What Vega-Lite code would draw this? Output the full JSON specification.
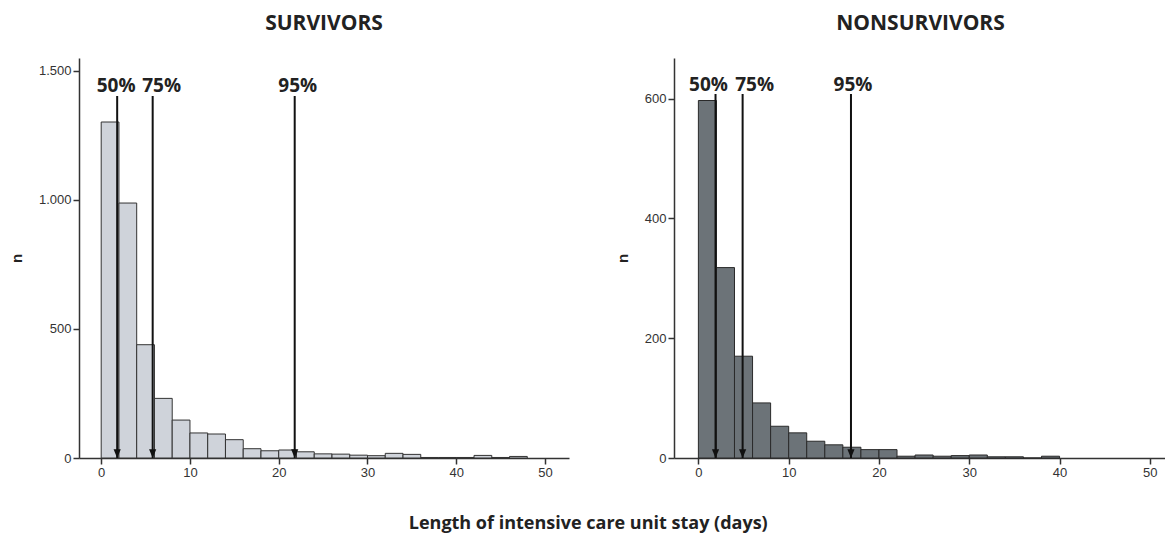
{
  "$schema": "https://vega.github.io/schema/vega-lite/v6.json",
  "padding": {"left": 9, "top": 13, "right": 0, "bottom": 0},
  "background": "white",
  "datasets": {
    "bins": [
      {"group": "Survivors", "bin_start": 0, "bin_end": 2, "n": 1302},
      {"group": "Survivors", "bin_start": 2, "bin_end": 4, "n": 988},
      {"group": "Survivors", "bin_start": 4, "bin_end": 6, "n": 439},
      {"group": "Survivors", "bin_start": 6, "bin_end": 8, "n": 231},
      {"group": "Survivors", "bin_start": 8, "bin_end": 10, "n": 147},
      {"group": "Survivors", "bin_start": 10, "bin_end": 12, "n": 97},
      {"group": "Survivors", "bin_start": 12, "bin_end": 14, "n": 93},
      {"group": "Survivors", "bin_start": 14, "bin_end": 16, "n": 71},
      {"group": "Survivors", "bin_start": 16, "bin_end": 18, "n": 36},
      {"group": "Survivors", "bin_start": 18, "bin_end": 20, "n": 28},
      {"group": "Survivors", "bin_start": 20, "bin_end": 22, "n": 31},
      {"group": "Survivors", "bin_start": 22, "bin_end": 24, "n": 24},
      {"group": "Survivors", "bin_start": 24, "bin_end": 26, "n": 16},
      {"group": "Survivors", "bin_start": 26, "bin_end": 28, "n": 15},
      {"group": "Survivors", "bin_start": 28, "bin_end": 30, "n": 11},
      {"group": "Survivors", "bin_start": 30, "bin_end": 32, "n": 9},
      {"group": "Survivors", "bin_start": 32, "bin_end": 34, "n": 18},
      {"group": "Survivors", "bin_start": 34, "bin_end": 36, "n": 14},
      {"group": "Survivors", "bin_start": 36, "bin_end": 38, "n": 2},
      {"group": "Survivors", "bin_start": 38, "bin_end": 40, "n": 2},
      {"group": "Survivors", "bin_start": 40, "bin_end": 42, "n": 2},
      {"group": "Survivors", "bin_start": 42, "bin_end": 44, "n": 10},
      {"group": "Survivors", "bin_start": 44, "bin_end": 46, "n": 2},
      {"group": "Survivors", "bin_start": 46, "bin_end": 48, "n": 6},
      {"group": "Nonsurvivors", "bin_start": 0, "bin_end": 2, "n": 597},
      {"group": "Nonsurvivors", "bin_start": 2, "bin_end": 4, "n": 318},
      {"group": "Nonsurvivors", "bin_start": 4, "bin_end": 6, "n": 170},
      {"group": "Nonsurvivors", "bin_start": 6, "bin_end": 8, "n": 92},
      {"group": "Nonsurvivors", "bin_start": 8, "bin_end": 10, "n": 53},
      {"group": "Nonsurvivors", "bin_start": 10, "bin_end": 12, "n": 42},
      {"group": "Nonsurvivors", "bin_start": 12, "bin_end": 14, "n": 28},
      {"group": "Nonsurvivors", "bin_start": 14, "bin_end": 16, "n": 22},
      {"group": "Nonsurvivors", "bin_start": 16, "bin_end": 18, "n": 18},
      {"group": "Nonsurvivors", "bin_start": 18, "bin_end": 20, "n": 14},
      {"group": "Nonsurvivors", "bin_start": 20, "bin_end": 22, "n": 14},
      {"group": "Nonsurvivors", "bin_start": 22, "bin_end": 24, "n": 3},
      {"group": "Nonsurvivors", "bin_start": 24, "bin_end": 26, "n": 5},
      {"group": "Nonsurvivors", "bin_start": 26, "bin_end": 28, "n": 3},
      {"group": "Nonsurvivors", "bin_start": 28, "bin_end": 30, "n": 4},
      {"group": "Nonsurvivors", "bin_start": 30, "bin_end": 32, "n": 5},
      {"group": "Nonsurvivors", "bin_start": 32, "bin_end": 34, "n": 2},
      {"group": "Nonsurvivors", "bin_start": 34, "bin_end": 36, "n": 2},
      {"group": "Nonsurvivors", "bin_start": 36, "bin_end": 38, "n": 0},
      {"group": "Nonsurvivors", "bin_start": 38, "bin_end": 40, "n": 3}
    ],
    "markers": [
      {"group": "Survivors", "pct": "50%", "day": 1.8, "top": 1403},
      {"group": "Survivors", "pct": "75%", "day": 5.8, "top": 1403},
      {"group": "Survivors", "pct": "95%", "day": 21.8, "top": 1403},
      {"group": "Nonsurvivors", "pct": "50%", "day": 1.9, "top": 608},
      {"group": "Nonsurvivors", "pct": "75%", "day": 4.9, "top": 608},
      {"group": "Nonsurvivors", "pct": "95%", "day": 16.9, "top": 608}
    ]
  },
  "title": {
    "text": "Length of intensive care unit stay (days)",
    "orient": "bottom",
    "anchor": "middle",
    "font": "Open Sans",
    "fontSize": 18,
    "fontWeight": "bold",
    "color": "#222",
    "offset": 36
  },
  "spacing": 46,
  "hconcat": [
    {
      "title": {"text": "SURVIVORS", "font": "Open Sans", "fontSize": 21, "fontWeight": "bold", "color": "#222", "offset": 24, "anchor": "middle"},
      "width": 490,
      "height": 400,
      "layer": [
        {
          "data": {"name": "bins"},
          "transform": [{"filter": "datum.group == 'Survivors'"}],
          "mark": {"type": "bar", "fill": "#cfd3da", "stroke": "#333333", "strokeWidth": 1},
          "encoding": {
            "x": {"field": "bin_start", "type": "quantitative", "scale": {"domain": [-2.5, 52.7], "nice": false, "zero": false}, "axis": {"title": null, "values": [0, 10, 20, 30, 40, 50]}},
            "x2": {"field": "bin_end"},
            "y": {"field": "n", "type": "quantitative", "scale": {"domain": [0, 1550], "nice": false}, "axis": {"title": "n", "values": [0, 500, 1000, 1500], "labelExpr": "replace(format(datum.value, ','), ',', '.')"}},
            "y2": {"datum": 0}
          }
        },
        {
          "data": {"name": "markers"},
          "transform": [{"filter": "datum.group == 'Survivors'"}],
          "mark": {"type": "rule", "color": "#111", "strokeWidth": 2},
          "encoding": {
            "x": {"field": "day", "type": "quantitative"},
            "y": {"field": "top", "type": "quantitative"},
            "y2": {"datum": 0}
          }
        },
        {
          "data": {"name": "markers"},
          "transform": [{"filter": "datum.group == 'Survivors'"}],
          "mark": {"type": "point", "shape": "M-0.45,-1.1L0.45,-1.1L0,0Z", "filled": true, "color": "#111", "size": 256, "opacity": 1},
          "encoding": {
            "x": {"field": "day", "type": "quantitative"},
            "y": {"datum": 0}
          }
        },
        {
          "data": {"name": "markers"},
          "transform": [{"filter": "datum.group == 'Survivors' && datum.pct == '50%'"}],
          "mark": {"type": "text", "font": "Open Sans", "fontSize": 19, "fontWeight": "bold", "color": "#222", "baseline": "alphabetic", "dy": -4, "dx": -1},
          "encoding": {"x": {"field": "day", "type": "quantitative"}, "y": {"field": "top", "type": "quantitative"}, "text": {"field": "pct"}}
        },
        {
          "data": {"name": "markers"},
          "transform": [{"filter": "datum.group == 'Survivors' && datum.pct == '75%'"}],
          "mark": {"type": "text", "font": "Open Sans", "fontSize": 19, "fontWeight": "bold", "color": "#222", "baseline": "alphabetic", "dy": -4, "dx": 9},
          "encoding": {"x": {"field": "day", "type": "quantitative"}, "y": {"field": "top", "type": "quantitative"}, "text": {"field": "pct"}}
        },
        {
          "data": {"name": "markers"},
          "transform": [{"filter": "datum.group == 'Survivors' && datum.pct == '95%'"}],
          "mark": {"type": "text", "font": "Open Sans", "fontSize": 19, "fontWeight": "bold", "color": "#222", "baseline": "alphabetic", "dy": -4, "dx": 3},
          "encoding": {"x": {"field": "day", "type": "quantitative"}, "y": {"field": "top", "type": "quantitative"}, "text": {"field": "pct"}}
        }
      ]
    },
    {
      "title": {"text": "NONSURVIVORS", "font": "Open Sans", "fontSize": 21, "fontWeight": "bold", "color": "#222", "offset": 24, "anchor": "middle"},
      "width": 493,
      "height": 400,
      "layer": [
        {
          "data": {"name": "bins"},
          "transform": [{"filter": "datum.group == 'Nonsurvivors'"}],
          "mark": {"type": "bar", "fill": "#6c7378", "stroke": "#2a2a2a", "strokeWidth": 1},
          "encoding": {
            "x": {"field": "bin_start", "type": "quantitative", "scale": {"domain": [-2.7, 51.9], "nice": false, "zero": false}, "axis": {"title": null, "values": [0, 10, 20, 30, 40, 50]}},
            "x2": {"field": "bin_end"},
            "y": {"field": "n", "type": "quantitative", "scale": {"domain": [0, 668], "nice": false}, "axis": {"title": "n", "values": [0, 200, 400, 600]}},
            "y2": {"datum": 0}
          }
        },
        {
          "data": {"name": "markers"},
          "transform": [{"filter": "datum.group == 'Nonsurvivors'"}],
          "mark": {"type": "rule", "color": "#111", "strokeWidth": 2},
          "encoding": {
            "x": {"field": "day", "type": "quantitative"},
            "y": {"field": "top", "type": "quantitative"},
            "y2": {"datum": 0}
          }
        },
        {
          "data": {"name": "markers"},
          "transform": [{"filter": "datum.group == 'Nonsurvivors'"}],
          "mark": {"type": "point", "shape": "M-0.45,-1.1L0.45,-1.1L0,0Z", "filled": true, "color": "#111", "size": 256, "opacity": 1},
          "encoding": {
            "x": {"field": "day", "type": "quantitative"},
            "y": {"datum": 0}
          }
        },
        {
          "data": {"name": "markers"},
          "transform": [{"filter": "datum.group == 'Nonsurvivors' && datum.pct == '50%'"}],
          "mark": {"type": "text", "font": "Open Sans", "fontSize": 19, "fontWeight": "bold", "color": "#222", "baseline": "alphabetic", "dy": -3, "dx": -7},
          "encoding": {"x": {"field": "day", "type": "quantitative"}, "y": {"field": "top", "type": "quantitative"}, "text": {"field": "pct"}}
        },
        {
          "data": {"name": "markers"},
          "transform": [{"filter": "datum.group == 'Nonsurvivors' && datum.pct == '75%'"}],
          "mark": {"type": "text", "font": "Open Sans", "fontSize": 19, "fontWeight": "bold", "color": "#222", "baseline": "alphabetic", "dy": -3, "dx": 12},
          "encoding": {"x": {"field": "day", "type": "quantitative"}, "y": {"field": "top", "type": "quantitative"}, "text": {"field": "pct"}}
        },
        {
          "data": {"name": "markers"},
          "transform": [{"filter": "datum.group == 'Nonsurvivors' && datum.pct == '95%'"}],
          "mark": {"type": "text", "font": "Open Sans", "fontSize": 19, "fontWeight": "bold", "color": "#222", "baseline": "alphabetic", "dy": -3, "dx": 2},
          "encoding": {"x": {"field": "day", "type": "quantitative"}, "y": {"field": "top", "type": "quantitative"}, "text": {"field": "pct"}}
        }
      ]
    }
  ],
  "config": {
    "view": {"stroke": null},
    "axis": {
      "grid": false,
      "domainColor": "#333333",
      "domainWidth": 1.5,
      "tickColor": "#333333",
      "tickWidth": 1.5,
      "tickSize": 6,
      "labelColor": "#333333",
      "labelFont": "Liberation Sans",
      "labelFontSize": 13,
      "labelPadding": 2,
      "titleFont": "Liberation Sans",
      "titleFontSize": 15,
      "titleFontWeight": "bold",
      "titleColor": "#222",
      "titlePadding": 14
    }
  }
}
